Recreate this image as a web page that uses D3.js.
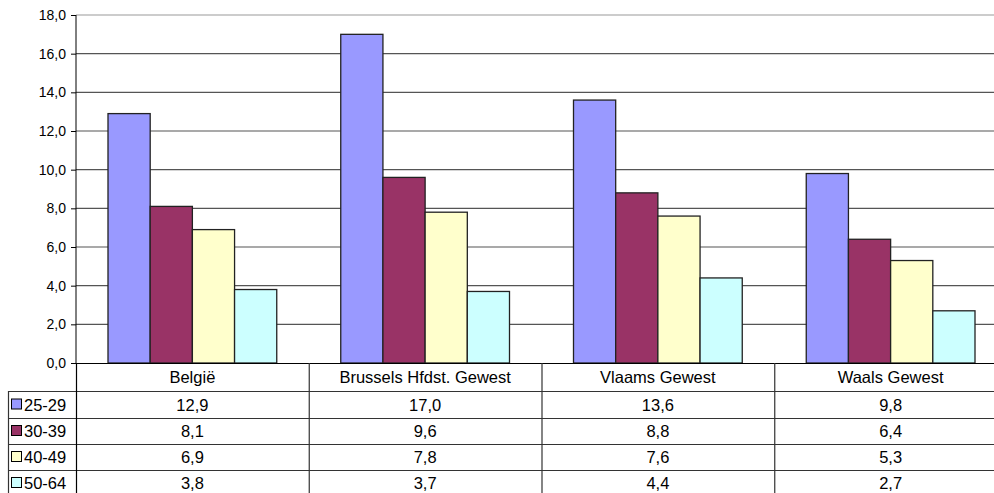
<!DOCTYPE html>
<html>
<head>
<meta charset="utf-8">
<script src="https://cdn.jsdelivr.net/npm/d3@7"></script>
<style>
  body { margin: 0; background: #fff; }
  svg { display: block; font-family: "Liberation Sans", Arial, sans-serif; }
</style>
</head>
<body>
<svg id="chart" width="994" height="493"></svg>
<script>
// data
var categories = ["België", "Brussels Hfdst. Gewest", "Vlaams Gewest", "Waals Gewest"];
var seriesNames = ["25-29", "30-39", "40-49", "50-64"];
var v2529 = [12.9, 17.0, 13.6, 9.8];
var v3039 = [8.1, 9.6, 8.8, 6.4];
var v4049 = [6.9, 7.8, 7.6, 5.3];
var v5064 = [3.8, 3.7, 4.4, 2.7];
var yTicks = [0, 2, 4, 6, 8, 10, 12, 14, 16, 18];
var colors = ["#9999ff", "#993366", "#ffffcc", "#ccffff"];

var series = [v2529, v3039, v4049, v5064];

var svg = d3.select("#chart");
var plotL = 76, plotR = 1007, plotT = 15, plotB = 363;
var fmt = function(d) { return d.toFixed(1).replace(".", ","); };

var x = d3.scaleBand().domain(categories).range([plotL, plotR]);
var xs = d3.scaleBand().domain(seriesNames).range([32, x.bandwidth() - 32]);
var y = d3.scaleLinear().domain([0, 18]).range([plotB, plotT]);

// gridlines
svg.append("g").selectAll("line").data(yTicks.slice(1)).enter().append("line")
  .attr("x1", plotL).attr("x2", plotR)
  .attr("y1", function(d) { return y(d); }).attr("y2", function(d) { return y(d); })
  .attr("stroke", function(d) { return d === 18 ? "#999" : "#555"; })
  .attr("stroke-width", 1.2);

// bars
series.forEach(function(vals, si) {
  svg.append("g").selectAll("rect").data(vals).enter().append("rect")
    .attr("x", function(d, i) { return x(categories[i]) + xs(seriesNames[si]); })
    .attr("y", function(d) { return y(d); })
    .attr("width", xs.bandwidth())
    .attr("height", function(d) { return y(0) - y(d); })
    .attr("fill", colors[si])
    .attr("stroke", "#222")
    .attr("stroke-width", 1.3);
});

// y axis
var yAxis = d3.axisLeft(y).tickValues(yTicks).tickSize(5).tickPadding(5).tickFormat(fmt);
var ga = svg.append("g").attr("transform", "translate(" + plotL + ",0)").call(yAxis);
ga.select(".domain").attr("stroke", "#000").attr("d", "M0," + plotT + "V" + plotB);
ga.selectAll(".tick line").attr("stroke", "#000");
ga.selectAll(".tick text").attr("font-size", 14).attr("fill", "#000")
  .attr("font-family", "Liberation Sans, Arial, sans-serif");

// data table
var rowTop = [363, 391, 418, 444, 470, 496];
var lineCol = "#333";
var tbl = svg.append("g");

// horizontal lines
tbl.append("line").attr("x1", plotL).attr("x2", plotR).attr("y1", 363.5).attr("y2", 363.5).attr("stroke", "#000").attr("stroke-width", 1.2);
rowTop.slice(1).forEach(function(ry) {
  tbl.append("line").attr("x1", 8).attr("x2", plotR).attr("y1", ry + 0.5).attr("y2", ry + 0.5)
    .attr("stroke", lineCol).attr("stroke-width", 1.2);
});
// vertical lines
tbl.append("line").attr("x1", 8.5).attr("x2", 8.5).attr("y1", 391).attr("y2", 493).attr("stroke", lineCol).attr("stroke-width", 1.2);
categories.concat([null]).forEach(function(c, i) {
  var xx = c === null ? plotR : x(c);
  tbl.append("line").attr("x1", xx + 0.5).attr("x2", xx + 0.5).attr("y1", 363).attr("y2", 493)
    .attr("stroke", i === 0 ? "#000" : lineCol).attr("stroke-width", 1.2);
});

// header
tbl.selectAll("text.hdr").data(categories).enter().append("text")
  .attr("class", "hdr")
  .attr("x", function(d) { return x(d) + x.bandwidth() / 2; })
  .attr("y", 383)
  .attr("text-anchor", "middle").attr("font-size", 16.5).text(function(d) { return d; });

// rows
series.forEach(function(vals, si) {
  var cy = (rowTop[si + 1] + rowTop[si + 2]) / 2;
  tbl.append("rect").attr("x", 11.5).attr("y", cy - 5.5).attr("width", 10).attr("height", 10)
    .attr("fill", colors[si]).attr("stroke", "#000").attr("stroke-width", 1);
  tbl.append("text").attr("x", 24).attr("y", cy + 6).attr("font-size", 16.5).text(seriesNames[si]);
  tbl.selectAll("text.v" + si).data(vals).enter().append("text")
    .attr("class", "v" + si)
    .attr("x", function(d, i) { return x(categories[i]) + x.bandwidth() / 2; })
    .attr("y", cy + 6)
    .attr("text-anchor", "middle").attr("font-size", 16.5).text(fmt);
});
</script>
</body>
</html>
